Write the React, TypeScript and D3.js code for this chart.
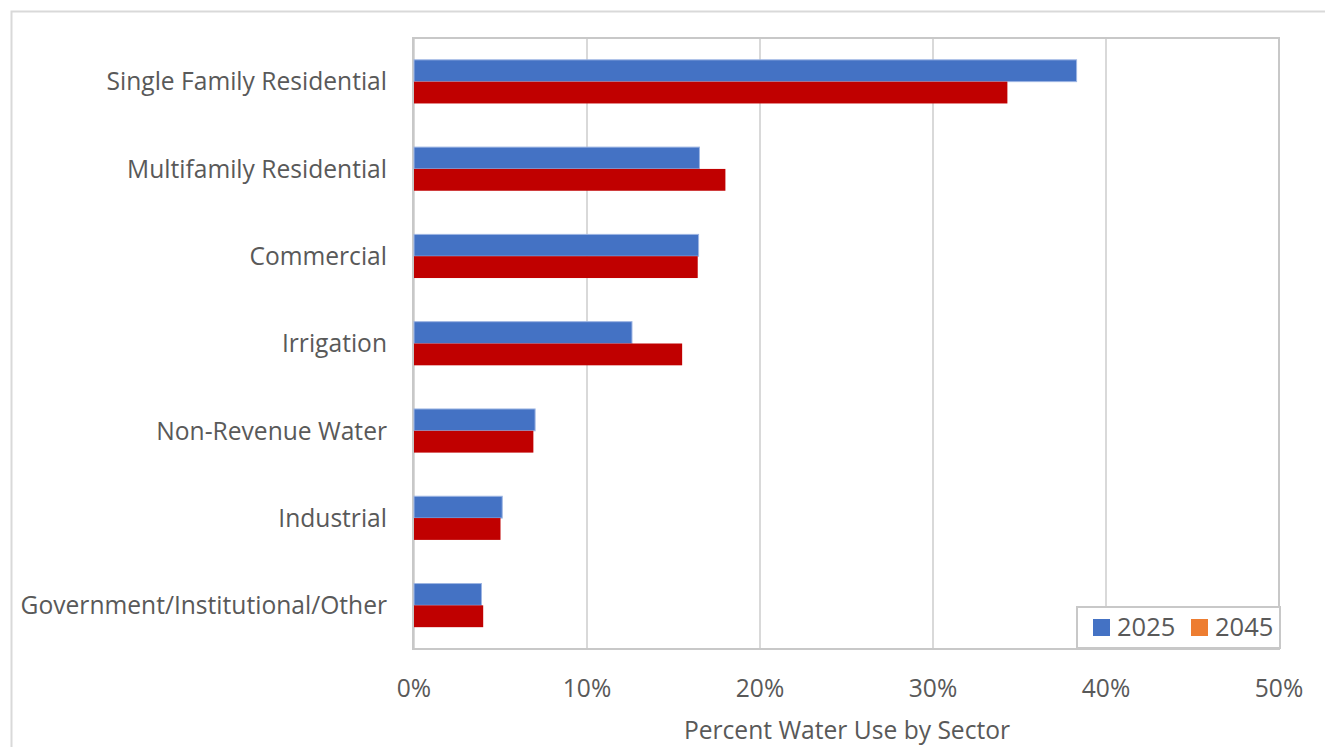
import React from "react";
import * as d3 from "d3";

const categories = [
  "Single Family Residential",
  "Multifamily Residential",
  "Commercial",
  "Irrigation",
  "Non-Revenue Water",
  "Industrial",
  "Government/Institutional/Other",
];
const values2025 = [38.3, 16.5, 16.45, 12.6, 7.0, 5.1, 3.9];
const values2045 = [34.3, 18.0, 16.4, 15.5, 6.9, 5.0, 4.0];
const xTicks = [0, 10, 20, 30, 40, 50];
const seriesNames = ["2025", "2045"];

const W = 1325;
const H = 747;
const FONT = "'Open Sans', 'Noto Sans', sans-serif";
const TEXT = "#595959";
const FS = 24.6;

export default function App() {
  const left = 414, right = 1279, top = 38, bottom = 649;
  const x = d3.scaleLinear().domain([0, 50]).range([left, right]);
  const y = d3.scaleBand<string>().domain(categories).range([top, bottom]).paddingInner(0.5).paddingOuter(0.25);
  const bw = y.bandwidth() / 2;

  return (
    <svg width={W} height={H} style={{ position: "absolute", left: 0, top: 0 }}>
      <rect x={0} y={0} width={W} height={H} fill="#fff" />
      {/* outer frame */}
      <path d={`M11.5,${H} V11.5 H${W}`} fill="none" stroke="#d9d9d9" strokeWidth={2} />
      {/* gridlines */}
      {xTicks.map((t) => (
        <line key={t} x1={x(t)} x2={x(t)} y1={top} y2={bottom} stroke="#d9d9d9" strokeWidth={2} />
      ))}
      {/* plot border */}
      <rect x={left - 1} y={top} width={right - left + 1} height={bottom - top} fill="none" stroke="#c8c8c8" strokeWidth={2} />
      {/* bars */}
      {categories.map((c, i) => (
        <g key={c}>
          <rect x={x(0)} y={y(c)!} width={x(values2025[i]) - x(0)} height={bw} fill="#4472C4" stroke="#9db5e3" strokeWidth={1} />
          <rect x={x(0)} y={y(c)! + bw} width={x(values2045[i]) - x(0)} height={bw} fill="#C00000" />
        </g>
      ))}
      {/* category labels */}
      {categories.map((c) => (
        <text key={c} x={387} y={y(c)! + bw} dy="0.36em" textAnchor="end" fontFamily={FONT} fontSize={FS} fill={TEXT}>
          {c}
        </text>
      ))}
      {/* tick labels */}
      {xTicks.map((t) => (
        <text key={t} x={x(t)} y={697} textAnchor="middle" fontFamily={FONT} fontSize={FS} fill={TEXT}>
          {t}%
        </text>
      ))}
      <text x={847} y={739} textAnchor="middle" fontFamily={FONT} fontSize={FS} fill={TEXT}>
        Percent Water Use by Sector
      </text>
      {/* legend */}
      <rect x={1077} y={607} width={203} height={41} fill="#fff" stroke="#c8c8c8" strokeWidth={2} />
      {seriesNames.map((s, i) => (
        <g key={s} transform={`translate(${1093 + i * 98},0)`}>
          <rect x={0} y={619} width={17} height={17} fill={i === 0 ? "#4472C4" : "#ED7D31"} />
          <text x={24} y={636} fontFamily={FONT} fontSize={25.5} fill={TEXT}>
            {s}
          </text>
        </g>
      ))}
    </svg>
  );
}
